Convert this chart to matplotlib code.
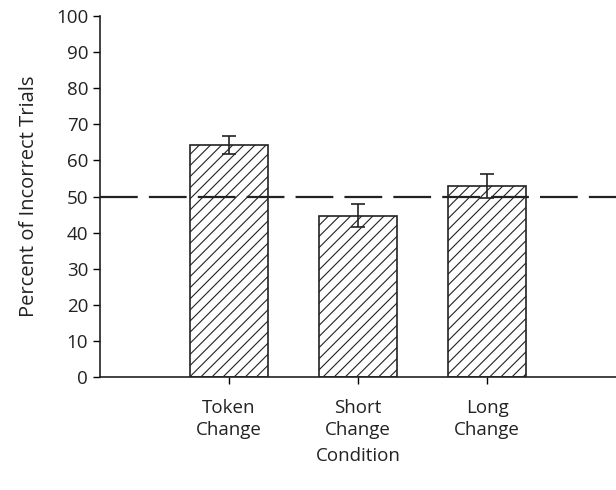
import matplotlib
matplotlib.use('Agg')
import matplotlib.pyplot as plt

conditions = ['Token\nChange', 'Short\nChange', 'Long\nChange']
percent_incorrect = [64.3, 44.7, 52.8]
std_error = [2.4, 3.1, 3.3]
chance_level = 50

plt.rcParams['font.family'] = ['Open Sans', 'DejaVu Sans']
plt.rcParams['hatch.linewidth'] = 0.8

fig = plt.figure(figsize=(6.16, 4.9), dpi=100)
ax = fig.add_axes([100 / 616, 113 / 490, 516 / 616, 361 / 490])

x = [1, 2, 3]
ax.bar(x, percent_incorrect, width=0.6, color='white', edgecolor='#222222',
       linewidth=1.2, hatch='///', zorder=2)
ax.errorbar(x, percent_incorrect, yerr=std_error, fmt='none', ecolor='#222222',
            elinewidth=1.2, capsize=5, capthick=1.2, zorder=3)
ax.axhline(chance_level, color='#222222', linewidth=1.6, dashes=(17, 5), zorder=4)

ax.set_xlim(0, 4)
ax.set_ylim(0, 100)
ax.set_yticks(range(0, 101, 10))
ax.set_xticks(x)
ax.set_xticklabels(conditions, fontsize=13.5, color='#222222', linespacing=1.25)
ax.tick_params(axis='y', labelsize=13.5, labelcolor='#222222', direction='out', length=5, width=1)
ax.tick_params(axis='x', direction='out', length=5, width=1, pad=11)
ax.set_xlabel('Condition', fontsize=13.5, color='#222222', labelpad=6)
ax.set_ylabel('Percent of Incorrect Trials', fontsize=14.5, color='#222222', labelpad=12)

for side in ['top', 'right']:
    ax.spines[side].set_visible(False)
for side in ['left', 'bottom']:
    ax.spines[side].set_linewidth(1.2)
    ax.spines[side].set_color('#222222')

fig.savefig('out.png', dpi=100)
